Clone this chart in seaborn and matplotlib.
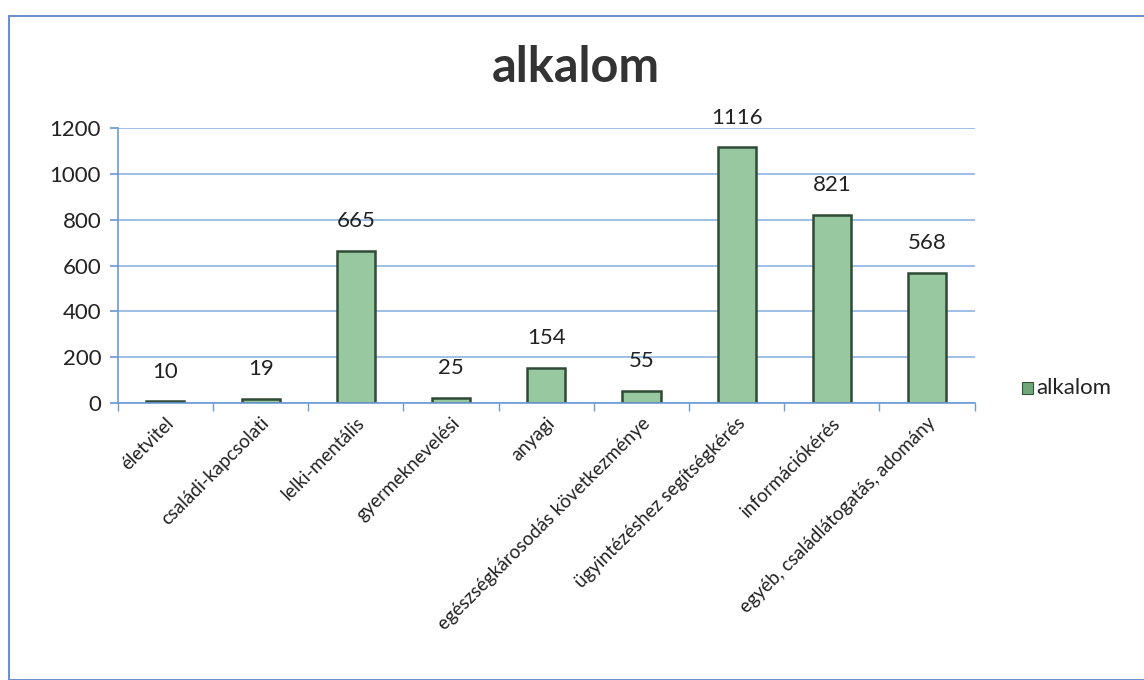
import matplotlib
matplotlib.use("Agg")
import matplotlib.pyplot as plt
import seaborn as sns
import pandas as pd
from matplotlib.patches import Rectangle

categories = ["életvitel", "családi-kapcsolati", "lelki-mentális", "gyermeknevelési", "anyagi",
              "egészségkárosodás következménye", "ügyintézéshez segítségkérés", "információkérés",
              "egyéb, családlátogatás, adomány"]
values = [10, 19, 665, 25, 154, 55, 1116, 821, 568]
yticks = [0, 200, 400, 600, 800, 1000, 1200]
series_name = "alkalom"

sns.set_theme(style="white")
plt.rcParams['font.family'] = ['Lato', 'DejaVu Sans']

df = pd.DataFrame({"cat": categories, "val": values})

fig = plt.figure(figsize=(11.44, 6.8), dpi=100)
ax = fig.add_axes([0.103, 0.407, 0.749, 0.405])

sns.barplot(data=df, x="cat", y="val", ax=ax, color="#98c8a0", width=0.4,
            edgecolor="#2f4a35", linewidth=1.8, saturation=1)

ax.set_ylim(0, 1200)
ax.set_xlim(-0.5, len(categories) - 0.5)
ax.set_yticks(yticks)
ax.set_yticklabels([str(t) for t in yticks], fontsize=16, color="#222222")
ax.yaxis.grid(True, color="#8db4e2", linewidth=1.2)
ax.set_axisbelow(True)
ax.set_xlabel("")
ax.set_ylabel("")

for s in ["top", "right"]:
    ax.spines[s].set_visible(False)
ax.spines["left"].set_color("#6c9bd2")
ax.spines["bottom"].set_color("#6c9bd2")
ax.spines["left"].set_linewidth(1.2)
ax.spines["bottom"].set_linewidth(1.2)

ax.set_xticks(range(len(categories)))
ax.set_xticklabels(categories, rotation=45, ha="right", rotation_mode="anchor",
                   fontsize=13.5, color="#222222")
ax.tick_params(axis="x", length=0, pad=8)
ax.tick_params(axis="y", length=6, color="#6c9bd2", left=True, pad=6)
ax.set_xticks([i - 0.5 for i in range(len(categories) + 1)], minor=True)
ax.tick_params(axis="x", which="minor", length=6, color="#6c9bd2", bottom=True)

for i, v in enumerate(values):
    ax.annotate(str(v), (i, v), xytext=(0, 14), textcoords="offset points",
                ha="center", va="bottom", fontsize=16, color="#222222")

fig.text(0.503, 0.90, "alkalom", fontsize=35, fontweight="bold", color="#333333",
         ha="center", va="center")

fig.patches.append(Rectangle((0.008, 0.0), 1.2, 0.977, transform=fig.transFigure,
                             fill=False, edgecolor="#6c8fd0", linewidth=1.5))

fig.patches.append(Rectangle((0.893, 0.420), 0.010, 0.018, transform=fig.transFigure,
                             facecolor="#6fa878", edgecolor="#34553a", linewidth=0.8))
fig.text(0.906, 0.430, series_name, fontsize=16, va="center", ha="left", color="#222222")

fig.savefig("out.png", dpi=100)
